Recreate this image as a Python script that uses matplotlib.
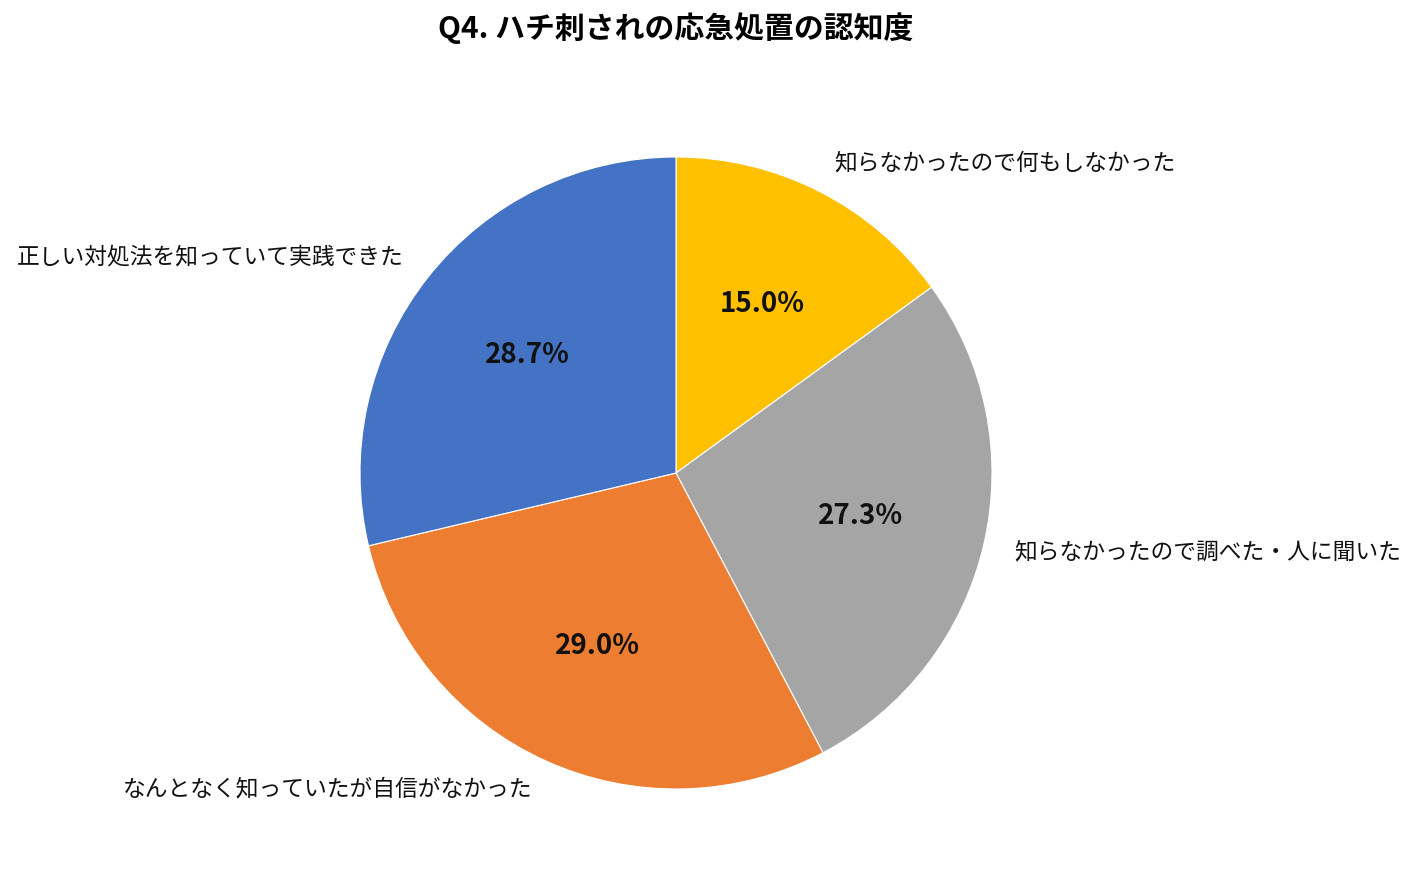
import matplotlib.pyplot as plt

plt.rcParams['font.family'] = ['Noto Sans CJK JP', 'DejaVu Sans']

# data, clockwise from 12 o'clock
labels = ["知らなかったので何もしなかった",
          "知らなかったので調べた・人に聞いた",
          "なんとなく知っていたが自信がなかった",
          "正しい対処法を知っていて実践できた"]
shares = [15.0, 27.3, 29.0, 28.7]
colors = ["#FFC000", "#A5A5A5", "#ED7D31", "#4472C4"]

W, H = 1418, 883
fig = plt.figure(figsize=(W / 100, H / 100), dpi=100)

# pie centre (676, 473) px, radius 316 px
cx, cy, r = 676, 473, 316
ax = fig.add_axes([(cx - r) / W, (H - cy - r) / H, 2 * r / W, 2 * r / H])

wedges, texts, autotexts = ax.pie(
    shares, labels=labels, colors=colors, startangle=90, counterclock=False,
    autopct="%.1f%%", pctdistance=0.6, labeldistance=1.1,
    wedgeprops=dict(edgecolor="white", linewidth=0.8),
    textprops=dict(fontsize=16.4, color="#111111"))
for t in autotexts:
    t.set_fontsize(20)
    t.set_fontweight("bold")
ax.set_xlim(-1, 1)
ax.set_ylim(-1, 1)
ax.set_aspect("equal")

fig.text(0.4767, 1 - 28 / H, "Q4. ハチ刺されの応急処置の認知度",
         ha="center", va="center", fontsize=21.5, fontweight="bold")

fig.savefig("out.png", dpi=100)
